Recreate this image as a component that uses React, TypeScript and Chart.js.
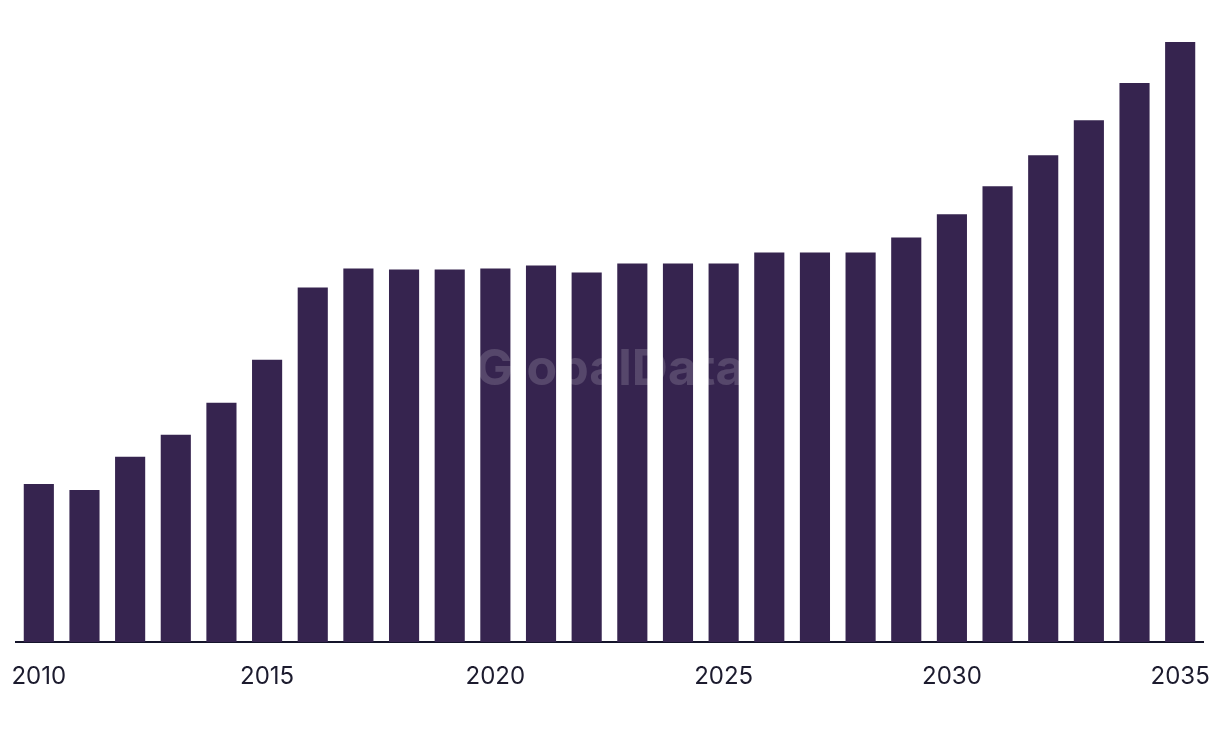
import React, { useEffect, useRef } from "react";
import { Chart, registerables } from "chart.js";

Chart.register(...registerables);

const years: string[] = [
  "2010", "2011", "2012", "2013", "2014", "2015", "2016", "2017", "2018", "2019",
  "2020", "2021", "2022", "2023", "2024", "2025", "2026", "2027", "2028", "2029",
  "2030", "2031", "2032", "2033", "2034", "2035",
];

const values: number[] = [
  158, 152, 185, 207, 239, 282, 354, 373, 372, 372,
  373, 376, 369, 378, 378, 378, 389, 389, 389, 404,
  427, 455, 486, 521, 558, 599,
];

const shownTicks: string[] = ["2010", "2015", "2020", "2025", "2030", "2035"];

const yMax = 599;

const watermark = {
  id: "watermark",
  afterDatasetsDraw(chart: any) {
    const { ctx } = chart;
    ctx.save();
    ctx.font = "bold 50px Inter, 'Liberation Sans', sans-serif";
    ctx.fillStyle = "rgba(255,255,255,0.16)";
    ctx.textAlign = "center";
    ctx.textBaseline = "middle";
    ctx.fillText("GlobalData", 610, 370);
    ctx.restore();
  },
};

export default function App() {
  const ref = useRef<HTMLCanvasElement | null>(null);
  useEffect(() => {
    if (!ref.current) return;
    const chart = new Chart(ref.current, {
      type: "bar",
      data: {
        labels: years,
        datasets: [
          {
            data: values,
            backgroundColor: "#36244F",
            barPercentage: 0.66,
            categoryPercentage: 1,
          },
        ],
      },
      options: {
        animation: false,
        responsive: false,
        maintainAspectRatio: false,
        layout: { padding: { left: 16, right: 17, top: 42, bottom: 27 } },
        plugins: { legend: { display: false }, tooltip: { enabled: false } },
        scales: {
          x: {
            afterFit: (scale: any) => {
              scale.paddingLeft = 0;
              scale.paddingRight = 0;
            },
            grid: { display: false, drawTicks: false },
            border: { display: true, color: "#14142a", width: 2 },
            ticks: {
              autoSkip: false,
              maxRotation: 0,
              padding: 20,
              color: "#1c1b2e",
              font: { family: "Inter, 'Liberation Sans', sans-serif", size: 24 },
              callback: (_v: any, i: number) => (shownTicks.includes(years[i]) ? years[i] : ""),
            },
          },
          y: { display: false, min: 0, max: yMax },
        },
      },
      plugins: [watermark],
    });
    return () => chart.destroy();
  }, []);
  return (
    <div style={{ position: "fixed", left: 0, top: 0, width: 1220, height: 738, background: "#fff" }}>
      <canvas ref={ref} width={1220} height={738} style={{ width: 1220, height: 738 }} />
    </div>
  );
}
